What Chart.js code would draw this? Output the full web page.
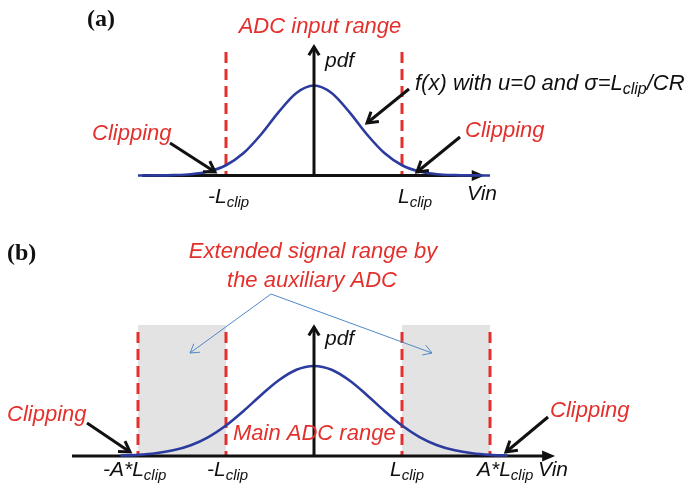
<!DOCTYPE html>
<html>
<head>
<meta charset="utf-8">
<script src="https://cdn.jsdelivr.net/npm/chart.js@4.4.1/dist/chart.umd.min.js"></script>
<style>
  body { margin: 0; background: #fff; }
  #wrap { position: relative; width: 688px; height: 490px; }
  canvas { position: absolute; left: 0; }
</style>
</head>
<body>
<div id="wrap">
  <canvas id="panelA" width="688" height="230" style="top:0"></canvas>
  <canvas id="panelB" width="688" height="260" style="top:230px"></canvas>
</div>
<script>
// Vin in units of L_clip, pdf scaled to its peak

// (a) ADC input range only
const vinA = [-2.0, -1.8, -1.6, -1.4, -1.2, -1.0, -0.8, -0.6, -0.4, -0.2, 0,
              0.2, 0.4, 0.6, 0.8, 1.0, 1.2, 1.4, 1.6, 1.8, 2.0];
const pdfA = [0.0002, 0.001, 0.004, 0.014, 0.044, 0.114, 0.249, 0.458, 0.707, 0.917, 1.000,
              0.917, 0.707, 0.458, 0.249, 0.114, 0.044, 0.014, 0.004, 0.001, 0.0002];
const clipA = [-1, 1];
const ticksA = [['-L', '_clip'], ['L', '_clip']];

// (b) main ADC plus auxiliary ADC (A = 2)
const vinB = [-2.2, -2.0, -1.8, -1.6, -1.4, -1.2, -1.0, -0.8, -0.6, -0.4, -0.2, 0,
              0.2, 0.4, 0.6, 0.8, 1.0, 1.2, 1.4, 1.6, 1.8, 2.0, 2.2];
const pdfB = [0.005, 0.013, 0.030, 0.063, 0.120, 0.211, 0.339, 0.501, 0.678, 0.841, 0.958, 1.000,
              0.958, 0.841, 0.678, 0.501, 0.339, 0.211, 0.120, 0.063, 0.030, 0.013, 0.005];
const clipB = [-2, -1, 1, 2];
const auxRanges = [[-2, -1], [1, 2]];
const ticksB = [['-A*L', '_clip'], ['-L', '_clip'], ['L', '_clip'], ['A*L', '_clip']];

const red = '#e3302c';
const ink = '#111111';
const curveBlue = '#2c3b9e';
const thinBlue = '#5088c8';
const FONT = '"Liberation Sans", Arial, Helvetica, sans-serif';

// text with "_sub" parts drawn as subscripts
function rich(ctx, x, y, parts, size, color) {
  ctx.fillStyle = color;
  ctx.textAlign = 'left';
  ctx.textBaseline = 'alphabetic';
  let cx = x;
  parts.forEach(p => {
    const sub = p.startsWith('_');
    const t = sub ? p.slice(1) : p;
    ctx.font = 'italic ' + (sub ? Math.round(size * 0.72) : size) + 'px ' + FONT;
    ctx.fillText(t, cx, y + (sub ? size * 0.2 : 0));
    cx += ctx.measureText(t).width;
  });
}

function textCentered(ctx, cx, y, str, size, color) {
  ctx.font = 'italic ' + size + 'px ' + FONT;
  ctx.fillStyle = color;
  ctx.textAlign = 'center';
  ctx.textBaseline = 'alphabetic';
  ctx.fillText(str, cx, y);
}

function panelTag(ctx, x, y, str) {
  ctx.font = 'bold 24px "Liberation Serif", "Times New Roman", serif';
  ctx.fillStyle = ink;
  ctx.textAlign = 'left';
  ctx.textBaseline = 'alphabetic';
  ctx.fillText(str, x, y);
}

// straight arrow with an open V head
function arrow(ctx, x1, y1, x2, y2, color, width, head) {
  const a = Math.atan2(y2 - y1, x2 - x1);
  ctx.save();
  ctx.strokeStyle = color;
  ctx.lineWidth = width;
  ctx.lineCap = 'butt';
  ctx.lineJoin = 'miter';
  ctx.beginPath();
  ctx.moveTo(x1, y1);
  ctx.lineTo(x2, y2);
  ctx.stroke();
  ctx.beginPath();
  ctx.moveTo(x2 - head * Math.cos(a - 0.55), y2 - head * Math.sin(a - 0.55));
  ctx.lineTo(x2, y2);
  ctx.lineTo(x2 - head * Math.cos(a + 0.55), y2 - head * Math.sin(a + 0.55));
  ctx.stroke();
  ctx.restore();
}

function vinAxis(c, from, to) {
  const ctx = c.ctx, X = v => c.scales.x.getPixelForValue(v), y0 = c.scales.y.getPixelForValue(0);
  const tip = X(to);
  ctx.save();
  ctx.strokeStyle = ink;
  ctx.fillStyle = ink;
  ctx.lineWidth = 3;
  ctx.beginPath();
  ctx.moveTo(X(from), y0);
  ctx.lineTo(tip - 8, y0);
  ctx.stroke();
  ctx.beginPath();
  ctx.moveTo(tip, y0);
  ctx.lineTo(tip - 13, y0 - 5.5);
  ctx.lineTo(tip - 13, y0 + 5.5);
  ctx.closePath();
  ctx.fill();
  ctx.restore();
}

function pdfAxis(c, top) {
  const ctx = c.ctx, x0 = c.scales.x.getPixelForValue(0), Y = v => c.scales.y.getPixelForValue(v);
  arrow(ctx, x0, Y(0), x0, Y(top), ink, 3, 10);
}

function clipLines(c, values, top) {
  const ctx = c.ctx, X = v => c.scales.x.getPixelForValue(v), Y = v => c.scales.y.getPixelForValue(v);
  ctx.save();
  ctx.strokeStyle = red;
  ctx.lineWidth = 3;
  ctx.setLineDash([11, 6]);
  values.forEach(v => {
    ctx.beginPath();
    ctx.moveTo(X(v), Y(top));
    ctx.lineTo(X(v), Y(0) - 1);
    ctx.stroke();
  });
  ctx.restore();
}

function panel(id, cfg) {
  return new Chart(document.getElementById(id), {
    type: 'line',
    data: {
      datasets: [{
        data: cfg.vin.map((v, i) => ({ x: v, y: cfg.pdf[i] })),
        borderColor: curveBlue,
        borderWidth: 2.6,
        pointRadius: 0,
        cubicInterpolationMode: 'monotone',
        fill: false
      }]
    },
    options: {
      responsive: false,
      animation: false,
      events: [],
      layout: { padding: 0 },
      scales: {
        x: { type: 'linear', display: false, min: cfg.xMin, max: cfg.xMax },
        y: { type: 'linear', display: false, min: cfg.yMin, max: cfg.yMax }
      },
      plugins: {
        legend: { display: false },
        tooltip: { enabled: false }
      }
    },
    plugins: [
      { id: 'under', beforeDatasetsDraw: cfg.under },
      { id: 'over', afterDatasetsDraw: cfg.over }
    ]
  });
}

// 88 px per L_clip, 90 px per unit of pdf; Vin = 0 at x = 314
panel('panelA', {
  vin: vinA, pdf: pdfA,
  xMin: -314 / 88, xMax: (688 - 314) / 88,
  yMin: -(230 - 175.5) / 90, yMax: 175.5 / 90,
  under(c) {
    clipLines(c, clipA, 1.372);
    vinAxis(c, -1.95, 1.94);
  },
  over(c) {
    const ctx = c.ctx, X = v => c.scales.x.getPixelForValue(v);
    pdfAxis(c, 1.43);
    panelTag(ctx, 87, 26, '(a)');
    textCentered(ctx, 320, 33, 'ADC input range', 22, red);
    rich(ctx, 325, 67, ['pdf'], 21, ink);
    rich(ctx, 415, 90, ['f(x) with u=0 and \u03c3=L', '_clip', '/CR'], 22, ink);
    rich(ctx, 92, 140, ['Clipping'], 22, red);
    rich(ctx, 465, 137, ['Clipping'], 22, red);
    arrow(ctx, 170, 143, 215, 172, ink, 3, 12);
    arrow(ctx, 409, 89, 367, 123, ink, 3, 12);
    arrow(ctx, 460, 137, 417, 172, ink, 3, 12);
    rich(ctx, X(clipA[0]) - 18, 203, ticksA[0], 21, ink);
    rich(ctx, X(clipA[1]) - 4, 203, ticksA[1], 21, ink);
    rich(ctx, 467, 200, ['Vin'], 21, ink);
  }
});

panel('panelB', {
  vin: vinB, pdf: pdfB,
  xMin: -314 / 88, xMax: (688 - 314) / 88,
  yMin: -(260 - 226) / 90, yMax: 226 / 90,
  under(c) {
    const ctx = c.ctx, X = v => c.scales.x.getPixelForValue(v), Y = v => c.scales.y.getPixelForValue(v);
    ctx.save();
    ctx.fillStyle = '#e3e3e3';
    auxRanges.forEach(r => {
      ctx.fillRect(X(r[0]), Y(1.456), X(r[1]) - X(r[0]), Y(0) - Y(1.456));
    });
    ctx.restore();
    clipLines(c, clipB, 1.378);
    vinAxis(c, -2.75, 2.74);
  },
  over(c) {
    const ctx = c.ctx, X = v => c.scales.x.getPixelForValue(v);
    pdfAxis(c, 1.433);
    panelTag(ctx, 7, 30, '(b)');
    textCentered(ctx, 313, 28, 'Extended signal range by', 22, red);
    textCentered(ctx, 312, 57, 'the auxiliary ADC', 22, red);
    arrow(ctx, 271, 64, 190, 123, thinBlue, 1, 10);
    arrow(ctx, 271, 64, 432, 123, thinBlue, 1, 10);
    rich(ctx, 325, 115, ['pdf'], 21, ink);
    rich(ctx, 7, 191, ['Clipping'], 22, red);
    rich(ctx, 550, 187, ['Clipping'], 22, red);
    arrow(ctx, 87, 193, 130, 222, ink, 3, 12);
    arrow(ctx, 548, 187, 506, 222, ink, 3, 12);
    rich(ctx, 233, 210, ['Main ADC range'], 22, red);
    const offs = [-35, -19, -12, -13];
    clipB.forEach((v, i) => rich(ctx, X(v) + offs[i], 246, ticksB[i], 21, ink));
    rich(ctx, 538, 246, ['Vin'], 21, ink);
  }
});
</script>
</body>
</html>
